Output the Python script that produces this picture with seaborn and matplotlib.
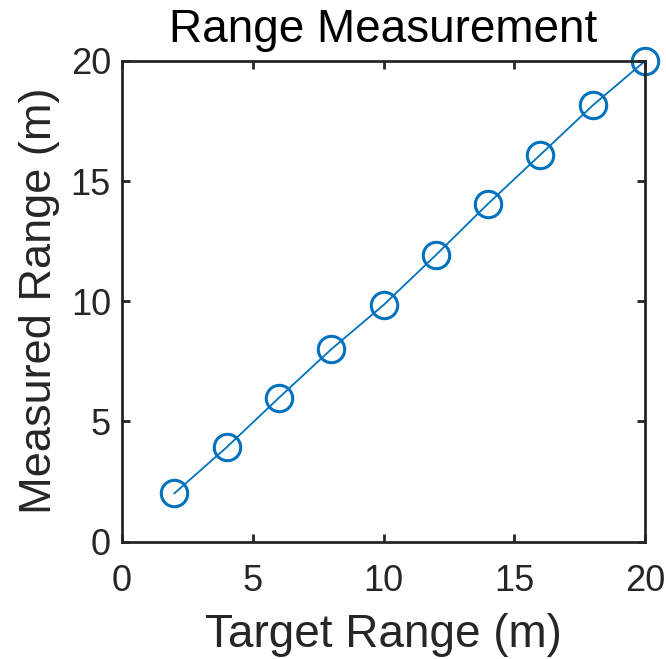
import matplotlib
matplotlib.use("Agg")
import matplotlib.pyplot as plt
import seaborn as sns
import pandas as pd

target_range = [2, 4, 6, 8, 10, 12, 14, 16, 18, 20]
measured_range = [2.0, 3.92, 5.98, 8.0, 9.84, 11.92, 14.06, 16.1, 18.15, 20.0]
x_ticks = [0, 5, 10, 15, 20]
y_ticks = [0, 5, 10, 15, 20]

sns.set_theme(style="white")
plt.rcParams['font.family'] = ['Liberation Sans', 'DejaVu Sans']

df = pd.DataFrame({"Target": target_range, "Measured": measured_range})

fig = plt.figure(figsize=(6.66, 6.59), dpi=100)
ax = fig.add_axes([122/666, 1 - 541.5/659, (645-122)/666, (541.5-61)/659])

sns.lineplot(data=df, x="Target", y="Measured", ax=ax, color="#0072BD",
             linewidth=1.3, marker="o", markersize=19, markerfacecolor="none",
             markeredgecolor="#0072BD", markeredgewidth=2.2)
for l in ax.lines:
    l.set_clip_on(False)

ax.set_xlim(0, 20)
ax.set_ylim(0, 20)
ax.set_xticks(x_ticks)
ax.set_yticks(y_ticks)
ax.tick_params(axis='both', direction='in', length=6, width=2, colors='#262626',
               labelsize=26, top=True, right=True, bottom=True, left=True)
ax.tick_params(axis='x', pad=16)
ax.tick_params(axis='y', pad=8)
for lab in ax.get_xticklabels() + ax.get_yticklabels():
    lab.set_color('#262626')
for s in ax.spines.values():
    s.set_color('#262626')
    s.set_linewidth(2)
    s.set_visible(True)

ax.set_xlabel("Target Range (m)", fontsize=33, color='#262626', labelpad=10)
ax.set_ylabel("Measured Range (m)", fontsize=32.5, color='#262626', labelpad=8)
ax.set_title("Range Measurement", fontsize=33, color='black', pad=14)

fig.savefig("out.png", dpi=100)
